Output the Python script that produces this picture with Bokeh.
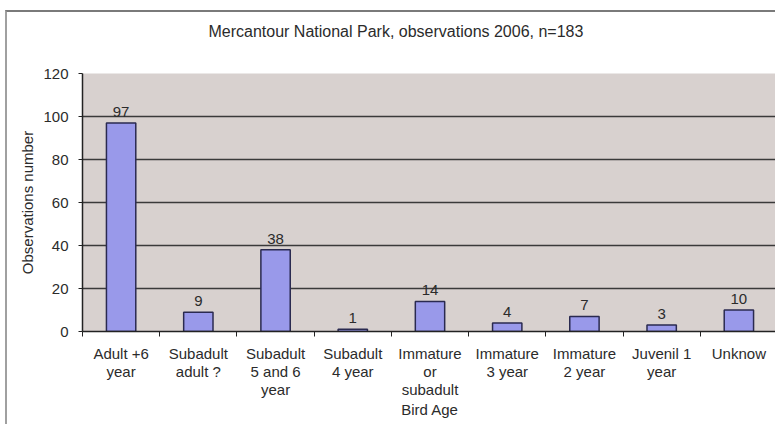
from bokeh.plotting import figure
from bokeh.models import Range1d, FixedTicker, LinearAxis, ColumnDataSource, LabelSet
from bokeh.core.properties import value
from bokeh.embed import file_html
from bokeh.resources import INLINE

categories = ["Adult +6\nyear", "Subadult\nadult ?", "Subadult\n5 and 6\nyear", "Subadult\n4 year",
              "Immature\nor\nsubadult", "Immature\n3 year", "Immature\n2 year", "Juvenil 1\nyear", "Unknow"]
values = [97, 9, 38, 1, 14, 4, 7, 3, 10]
y_ticks = [0, 20, 40, 60, 80, 100, 120]
title_text = "Mercantour National Park, observations 2006, n=183"

FONT = "Liberation Sans"
TXT = "#2b2b2b"
FS = "15px"

xs = [i + 0.5 for i in range(len(categories))]
src = ColumnDataSource(dict(x=xs, top=values, lab=[str(v) for v in values]))

p = figure(width=770, height=414, output_backend="svg", toolbar_location=None,
           x_range=Range1d(0, len(categories)), y_range=Range1d(0, 120),
           x_axis_type=None, min_border_left=75, min_border_right=0,
           min_border_top=61, min_border_bottom=95,
           background_fill_color="#d8d1cf", border_fill_color="white",
           outline_line_color=None,
           styles={"border-top": "2px solid #7a7a7a", "border-left": "2px solid #a0a0a0",
                   "margin-left": "5px", "margin-top": "10px"})

p.title.text = title_text + "\n"
p.title.align = "left"
p.title.offset = 126
p.title.vertical_align = "top"
p.title.text_font = FONT
p.title.text_font_size = "16px"
p.title.text_font_style = "normal"
p.title.text_color = TXT
p.title.text_line_height = 1.4
p.title.standoff = 16

xaxis = LinearAxis(ticker=FixedTicker(ticks=xs, minor_ticks=list(range(len(categories) + 1))),
                   major_label_overrides={x: c for x, c in zip(xs, categories)})
xaxis.axis_label = "Bird Age"
xaxis.axis_label_text_font = FONT
xaxis.axis_label_text_font_size = FS
xaxis.axis_label_text_font_style = "normal"
xaxis.axis_label_text_color = TXT
xaxis.axis_label_standoff = 0
xaxis.major_label_text_font = FONT
xaxis.major_label_text_font_size = FS
xaxis.major_label_text_color = TXT
xaxis.major_label_text_line_height = 1.08
xaxis.major_label_standoff = 8
xaxis.major_tick_line_color = None
xaxis.major_tick_out = 0
xaxis.major_tick_in = 0
xaxis.minor_tick_line_color = "#222222"
xaxis.minor_tick_out = 5
xaxis.minor_tick_in = 0
xaxis.axis_line_color = "#222222"
xaxis.axis_line_width = 1.5
p.add_layout(xaxis, "below")

ya = p.yaxis[0]
ya.ticker = FixedTicker(ticks=y_ticks)
ya.axis_label = "Observations number"
ya.axis_label_text_font = FONT
ya.axis_label_text_font_size = FS
ya.axis_label_text_font_style = "normal"
ya.axis_label_text_color = TXT
ya.axis_label_standoff = 4
ya.major_label_text_font = FONT
ya.major_label_text_font_size = FS
ya.major_label_text_color = TXT
ya.major_label_standoff = 10
ya.major_tick_out = 4
ya.major_tick_in = 0
ya.minor_tick_line_color = None
ya.major_tick_line_color = "#222222"
ya.axis_line_color = "#222222"
ya.axis_line_width = 1.5

p.xgrid.visible = False
p.ygrid.ticker = FixedTicker(ticks=y_ticks)
p.ygrid.grid_line_color = "#3a3a3a"
p.ygrid.grid_line_width = 1.5

p.vbar(x="x", top="top", width=0.38, bottom=0, source=src,
       fill_color="#9999ea", line_color="#2a2a50", line_width=1.5)

labels = LabelSet(x="x", y="top", text="lab", source=src, x_offset=0, y_offset=6,
                  text_align="center", text_baseline="bottom",
                  text_font=value(FONT), text_font_size=value(FS), text_color=TXT)
p.add_layout(labels)

open("out.html", "w").write(file_html(p, INLINE))
